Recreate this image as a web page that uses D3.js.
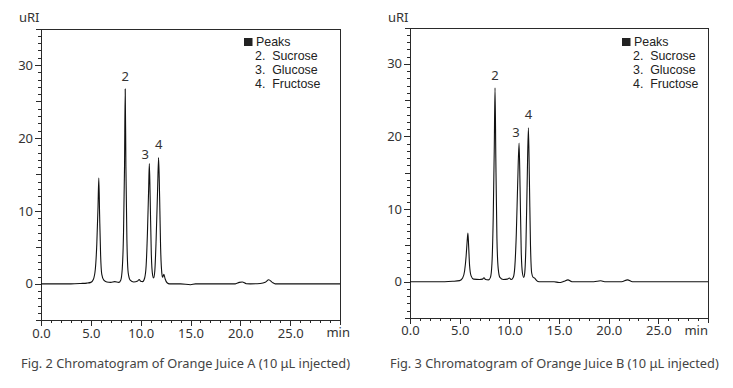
<!DOCTYPE html>
<html>
<head>
<meta charset="utf-8">
<script src="https://cdn.jsdelivr.net/npm/d3@7"></script>
<style>
  html, body { margin: 0; padding: 0; background: #fff; }
  svg { display: block; font-family: "Noto Sans", "DejaVu Sans", sans-serif; }
  .frame { fill: none; stroke: #2a2a2a; stroke-width: 1; shape-rendering: crispEdges; }
  .axis path { display: none; }
  .axis line { stroke: #2a2a2a; shape-rendering: crispEdges; }
  .axis text { fill: #333; font-size: 13px; font-family: "Noto Sans", sans-serif; }
  .trace { fill: none; stroke: #111; stroke-width: 1.1; }
  .lbl { fill: #333; font-size: 13px; }
  .legend { fill: #222; font-size: 12.4px; font-family: "Liberation Sans", Arial, sans-serif; }
  .caption { fill: #444; font-size: 12.5px; }
</style>
</head>
<body>
<svg id="chart" width="733" height="388"></svg>
<script>
// chromatogram traces: [time (min), signal (uRI)]
const traceA = [
  [0, 0], [3.0, 0], [4.0, 0.05], [4.6, 0.1], [5.0, 0.2], [5.25, 0.6], [5.45, 2.0],
  [5.6, 5.5], [5.72, 10.5], [5.8, 14.5], [5.88, 9.5], [5.98, 4], [6.1, 1.3],
  [6.3, 0.5], [6.6, 0.25], [7.0, 0.2], [7.4, 0.3], [7.8, 0.2], [8.0, 0.5],
  [8.15, 2], [8.28, 7], [8.38, 16], [8.45, 26.7], [8.52, 16], [8.62, 6],
  [8.75, 1.5], [8.95, 0.5], [9.3, 0.25], [9.7, 0.4], [9.85, 0.6], [10.0, 0.35],
  [10.2, 0.3], [10.4, 0.8], [10.55, 2.5], [10.68, 7], [10.8, 13], [10.87, 16.5],
  [10.95, 12], [11.07, 4], [11.2, 1.2], [11.3, 0.8], [11.42, 1.8], [11.55, 6],
  [11.7, 13], [11.8, 17.3], [11.9, 12], [12.0, 5], [12.12, 1.5], [12.2, 0.9],
  [12.33, 1.3], [12.45, 0.7], [12.65, 0.15], [12.9, 0], [14.0, 0], [15.0, -0.12],
  [15.5, 0], [19.5, 0], [19.9, 0.2], [20.2, 0.25], [20.6, 0.02], [21.0, 0],
  [22.0, 0.05], [22.5, 0.2], [22.85, 0.55], [23.2, 0.2], [23.5, 0], [30, 0]
];
const traceB = [
  [0, 0], [3.5, 0], [4.3, 0.05], [5.0, 0.15], [5.3, 0.5], [5.5, 1.5], [5.65, 3.5],
  [5.75, 5.5], [5.83, 6.7], [5.9, 5], [6.0, 2.2], [6.15, 0.8], [6.4, 0.35],
  [7.0, 0.3], [7.3, 0.35], [7.45, 0.55], [7.6, 0.3], [7.9, 0.25], [8.1, 0.6],
  [8.25, 2.5], [8.38, 9], [8.48, 18], [8.56, 26.7], [8.64, 17], [8.75, 6],
  [8.88, 1.8], [9.05, 0.6], [9.4, 0.3], [9.8, 0.35], [10.0, 0.5], [10.2, 0.3],
  [10.4, 0.6], [10.55, 2], [10.7, 6.5], [10.85, 14], [10.98, 19.1], [11.08, 13],
  [11.2, 4], [11.32, 1.2], [11.45, 0.6], [11.55, 1.2], [11.67, 5], [11.8, 14],
  [11.92, 21.2], [12.02, 14], [12.13, 5], [12.25, 1.2], [12.4, 0.6], [12.55, 0.5],
  [12.75, 0.15], [13.0, 0], [14.5, 0], [15.0, -0.12], [15.5, 0.05], [15.9, 0.25],
  [16.3, 0], [18.5, 0], [19.2, 0.12], [19.6, 0], [21.3, 0], [21.9, 0.25],
  [22.4, 0], [30, 0]
];

// numbered peaks: label, retention time, apex height
const peakNames = ['2', '3', '4'];
const peakTimesA = [8.45, 10.87, 11.8];
const peakHeightsA = [26.7, 16.5, 17.3];
const peakTimesB = [8.56, 10.98, 11.92];
const peakHeightsB = [26.7, 19.1, 21.2];

const legendItems = ['Peaks', '2. Sucrose', '3. Glucose', '4. Fructose'];
const xTickValues = [0, 5, 10, 15, 20, 25];
const xTickLabels = ['0.0', '5.0', '10.0', '15.0', '20.0', '25.0'];
const yTickValues = [0, 10, 20, 30];
const captions = [
  'Fig. 2 Chromatogram of Orange Juice A (10 \u03bcL injected)',
  'Fig. 3 Chromatogram of Orange Juice B (10 \u03bcL injected)'
];

const svg = d3.select('#chart');

// layout per panel (pixel placement only)
const panels = [
  { left: 41, right: 340, top: 28.5, bottom: 320.3, legendX: 244, minEnd: 350,
    trace: traceA, times: peakTimesA, heights: peakHeightsA,
    labelDx: [0, -4, 0], labelDy: [-8, -4, -9], caption: captions[0] },
  { left: 410, right: 708, top: 27.5, bottom: 318, legendX: 622, minEnd: 708,
    trace: traceB, times: peakTimesB, heights: peakHeightsB,
    labelDx: [0, -3, 0], labelDy: [-8, -6, -9], caption: captions[1] }
];

panels.forEach(drawPanel);

function drawPanel(p) {
  const x = d3.scaleLinear().domain([0, 30]).range([p.left, p.right]);
  const y = d3.scaleLinear().domain([-5, 35]).range([p.bottom, p.top]);
  const g = svg.append('g');

  // minor / medium ticks
  g.append('g').attr('class', 'axis')
    .attr('transform', `translate(0,${p.bottom})`)
    .call(d3.axisBottom(x).tickValues(d3.range(0, 31, 1)).tickSize(3).tickFormat(''));
  g.append('g').attr('class', 'axis')
    .attr('transform', `translate(0,${p.bottom})`)
    .call(d3.axisBottom(x).tickValues(xTickValues.concat([30])).tickSize(5).tickFormat(''));
  g.append('g').attr('class', 'axis')
    .attr('transform', `translate(${p.left},0)`)
    .call(d3.axisLeft(y).tickValues(d3.range(-5, 36, 1)).tickSize(3).tickFormat(''));
  g.append('g').attr('class', 'axis')
    .attr('transform', `translate(${p.left},0)`)
    .call(d3.axisLeft(y).tickValues(d3.range(-5, 36, 5)).tickSize(5).tickFormat(''));

  // labelled ticks
  g.append('g').attr('class', 'axis')
    .attr('transform', `translate(0,${p.bottom})`)
    .call(d3.axisBottom(x).tickValues(xTickValues).tickSize(6).tickPadding(2)
      .tickFormat((d, i) => xTickLabels[i]));
  g.append('g').attr('class', 'axis')
    .attr('transform', `translate(${p.left},0)`)
    .call(d3.axisLeft(y).tickValues(yTickValues).tickSize(6).tickPadding(2)
      .tickFormat(d3.format('d')));

  // frame
  g.append('rect').attr('class', 'frame')
    .attr('x', p.left + 0.5).attr('y', p.top + 0.5)
    .attr('width', p.right - p.left).attr('height', p.bottom - p.top);

  g.append('text').attr('class', 'lbl')
    .attr('x', p.minEnd).attr('y', p.bottom + 17)
    .attr('text-anchor', 'end').text('min');
  g.append('text').attr('class', 'lbl')
    .attr('x', p.left - 22).attr('y', 22).text('uRI');

  // trace
  const line = d3.line()
    .x(d => x(d[0])).y(d => y(d[1]))
    .curve(d3.curveMonotoneX);
  g.append('path').attr('class', 'trace').datum(p.trace).attr('d', line);

  // peak numbers
  g.selectAll('text.peak').data(peakNames).join('text')
    .attr('class', 'lbl peak')
    .attr('text-anchor', 'middle')
    .attr('x', (d, i) => x(p.times[i]) + p.labelDx[i])
    .attr('y', (d, i) => y(p.heights[i]) + p.labelDy[i])
    .text(d => d);

  // legend
  const lg = g.append('g');
  lg.append('rect').attr('x', p.legendX).attr('y', 38)
    .attr('width', 8.5).attr('height', 8).attr('fill', '#222');
  lg.selectAll('text').data(legendItems).join('text')
    .attr('class', 'legend')
    .attr('x', (d, i) => i === 0 ? p.legendX + 12 : p.legendX + 11)
    .attr('y', (d, i) => 46 + i * 14)
    .attr('xml:space', 'preserve')
    .text(d => d.replace('. ', '.  '));

  // caption, squeezed to the measured width
  const cap = g.append('text').attr('class', 'caption')
    .attr('x', p.left - 20).attr('y', 368).text(p.caption);
  const w = cap.node().getComputedTextLength();
  cap.style('font-size', (12.5 * 329 / w).toFixed(2) + 'px');
}
</script>
</body>
</html>
